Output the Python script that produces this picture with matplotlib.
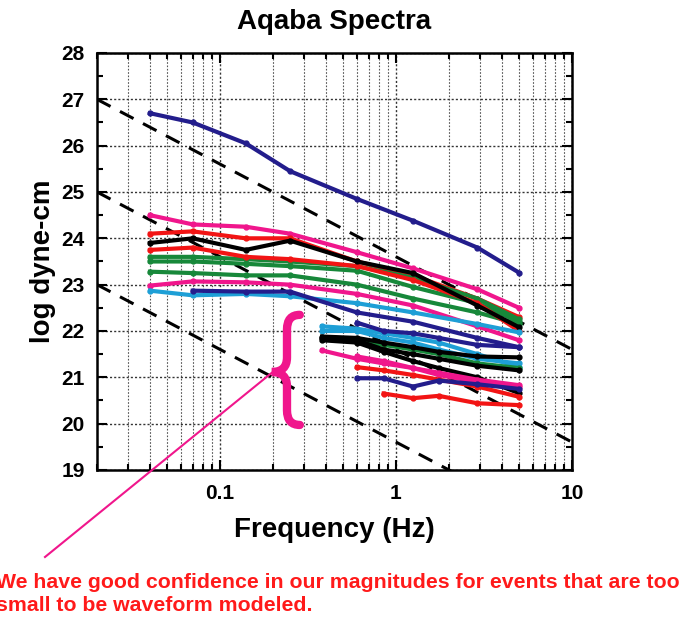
import numpy as np
import matplotlib
matplotlib.use("Agg")
import matplotlib.pyplot as plt
from matplotlib.path import Path
from matplotlib.patches import PathPatch
from matplotlib.lines import Line2D
from matplotlib.ticker import LogLocator, MultipleLocator, FixedLocator, FixedFormatter

plt.rcParams['font.family'] = ['Liberation Sans', 'DejaVu Sans']
plt.rcParams['font.weight'] = 'bold'

# frequencies (Hz)
freq_long = [0.04, 0.07, 0.14, 0.25, 0.6, 1.25, 2.9, 5.0]
freq_short = [0.38, 0.6, 0.85, 1.25, 1.75, 2.9, 5.0]

navy = '#231d8c'
magenta = '#f0168c'
red = '#f21414'
black = '#000000'
green = '#17883a'
cyan = '#1e9fd6'

# long spectra (start at 0.04 Hz)
long_colors = [navy, magenta, red, green, green, green, red, black, magenta, cyan, navy]
long_vals = [
    [26.70, 26.50, 26.05, 25.45, 24.85, 24.38, 23.80, 23.26],
    [24.50, 24.30, 24.25, 24.10, 23.70, 23.35, 22.90, 22.50],
    [24.10, 24.15, 24.00, 24.00, 23.50, 23.20, 22.70, 22.30],
    [23.60, 23.60, 23.55, 23.50, 23.40, 23.15, 22.70, 22.25],
    [23.50, 23.50, 23.45, 23.40, 23.30, 22.95, 22.60, 22.20],
    [23.28, 23.25, 23.20, 23.20, 23.00, 22.70, 22.40, 22.15],
    [23.75, 23.80, 23.60, 23.55, 23.40, 23.10, 22.60, 22.00],
    [23.90, 24.00, 23.75, 23.95, 23.50, 23.25, 22.55, 22.08],
    [22.98, 23.07, 23.05, 23.00, 22.80, 22.55, 22.10, 21.80],
    [22.87, 22.77, 22.80, 22.75, 22.60, 22.40, 22.15, 21.97],
    [np.nan, 22.87, 22.85, 22.85, 22.40, 22.20, 21.85, 21.65],
]

# short spectra (start at 0.38 Hz or later)
short_colors = [cyan, cyan, navy, green, black, black, magenta, magenta, red, navy, red, black]
short_vals = [
    [22.10, 22.05, 21.95, 21.85, 21.75, 21.50, 21.22],
    [22.00, 22.00, 21.85, 21.75, 21.60, 21.40, 21.30],
    [np.nan, 22.18, 22.00, 21.95, 21.85, 21.70, 21.65],
    [np.nan, 21.80, 21.70, 21.60, 21.50, 21.30, 21.20],
    [21.88, 21.85, 21.75, 21.65, 21.55, 21.45, 21.43],
    [21.80, 21.75, 21.55, 21.35, 21.20, 21.00, 20.66],
    [21.58, 21.40, 21.30, 21.20, 21.10, 20.95, 20.83],
    [np.nan, 21.45, 21.35, 21.20, 21.05, 20.90, 20.80],
    [np.nan, 21.22, 21.15, 21.05, 20.95, 20.80, 20.58],
    [np.nan, 20.98, 20.98, 20.80, 20.93, 20.85, 20.75],
    [np.nan, np.nan, 20.65, 20.55, 20.60, 20.44, 20.40],
    [21.85, 21.80, 21.60, 21.50, 21.40, 21.25, 21.15],
]

# omega-squared reference lines: level at left edge, slope -2 per decade
ref_levels = [27, 25, 23]
f_ref = [0.02, 10.0]

note = ("We have good confidence in our magnitudes for events that are too\n"
        "small to be waveform modeled.")

fig = plt.figure(figsize=(6.86, 6.22), dpi=100)
ax = fig.add_axes([0.1414, 0.2444, 0.6924, 0.6704])

for lev in ref_levels:
    yy = [lev - 2 * np.log10(f / f_ref[0]) for f in f_ref]
    ax.plot(f_ref, yy, color='black', lw=2.2, dashes=(5, 3.5), zorder=2)

for c, v in zip(long_colors, long_vals):
    ax.plot(freq_long, v, color=c, lw=3, marker='o', ms=3.5, zorder=3)
for c, v in zip(short_colors, short_vals):
    ax.plot(freq_short, v, color=c, lw=3, marker='o', ms=3.5, zorder=3)

ax.set_xscale('log')
ax.set_xlim(0.02, 10)
ax.set_ylim(19, 28)
ax.xaxis.set_major_locator(FixedLocator([0.1, 1, 10]))
ax.xaxis.set_major_formatter(FixedFormatter(['0.1', '1', '10']))
ax.xaxis.set_minor_locator(LogLocator(base=10, subs=np.arange(2, 10), numticks=20))
ax.xaxis.set_minor_formatter(plt.NullFormatter())
ax.yaxis.set_major_locator(MultipleLocator(1))
ax.yaxis.set_minor_locator(MultipleLocator(0.5))
ax.tick_params(which='both', direction='in', top=True, right=True, width=1.5)
ax.tick_params(which='major', length=7, labelsize=15)
ax.tick_params(axis='x', which='major', pad=10)
ax.tick_params(axis='y', which='major', pad=9)
ax.tick_params(which='minor', length=4)
ax.grid(which='major', axis='both', color='#333333', ls=(0, (1.5, 1.5)), lw=1)
ax.grid(which='minor', axis='x', color='#555555', ls=(0, (1.5, 1.5)), lw=0.8)
for s in ax.spines.values():
    s.set_linewidth(1.8)

ax.set_title('Aqaba Spectra', fontsize=20, fontweight='bold', pad=17)
ax.set_xlabel('Frequency (Hz)', fontsize=20, fontweight='bold', labelpad=10)
ax.set_ylabel('log dyne-cm', fontsize=20, fontweight='bold', labelpad=4)

# curly brace marking the small events
cx, tip, end = 0.40, 0.368, 0.427
top, mid, bot, r = 0.372, 0.235, 0.108, 0.035
verts = [(end, top), (cx, top), (cx, top - r), (cx, mid + r),
         (cx, mid), (tip, mid), (cx, mid), (cx, mid - r), (cx, bot + r),
         (cx, bot), (end, bot)]
codes = [Path.MOVETO, Path.CURVE3, Path.CURVE3, Path.LINETO,
         Path.CURVE3, Path.CURVE3, Path.CURVE3, Path.CURVE3, Path.LINETO,
         Path.CURVE3, Path.CURVE3]
ax.add_patch(PathPatch(Path(verts, codes), transform=ax.transAxes, fill=False,
                       edgecolor=magenta, lw=6, capstyle='round', zorder=4))

fig.add_artist(Line2D([0.0656, 0.401], [0.1045, 0.405], color=magenta, lw=1.5,
                      transform=fig.transFigure))

fig.text(-0.006, 0.078, note, color='#ff1a1a', fontsize=15.3, fontweight='bold',
         va='top', ha='left', linespacing=1.25)

fig.savefig('out.png', dpi=100)
